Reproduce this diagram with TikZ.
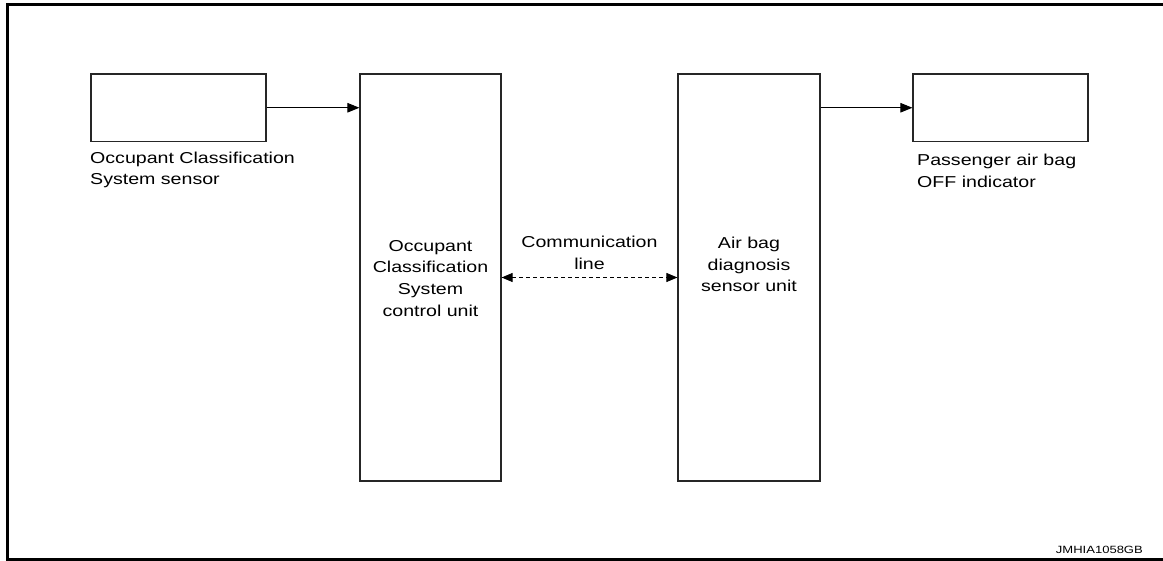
\documentclass[tikz,border=0pt]{standalone}
\usepackage{fontspec}
\setmainfont{Liberation Sans}[FakeStretch=1.24]
\usetikzlibrary{arrows.meta}
\tikzset{
  blk/.style={draw=black!85, line width=1.2pt, inner sep=0pt},
  lbl/.style={inner sep=0pt, font=\fontsize{15.8}{21.7}\selectfont},
  conn/.style={line width=1pt, -{Triangle[length=12pt,width=9.5pt]}},
  dconn/.style={line width=1pt, dash pattern=on 4pt off 3pt,
    {Triangle[length=11pt,width=9pt]}-{Triangle[length=11pt,width=9pt]}},
  frame/.style={line width=2.8pt}
}
\begin{document}
\begin{tikzpicture}[x=1pt,y=-1pt]
\useasboundingbox (0,0) rectangle (1163,561);
\draw[frame] (1163,4.7) -- (7.3,4.7) -- (7.3,559.5) -- (1163,559.5);
\node[blk, minimum width=175pt, minimum height=67.5pt] (sensor) at (178.5,107.75) {};
\node[blk, minimum width=141pt, minimum height=407pt] (ocs) at (430.5,277.5) {};
\node[blk, minimum width=142pt, minimum height=407pt] (abs) at (749,277.5) {};
\node[blk, minimum width=175pt, minimum height=67.5pt] (ind) at (1000.5,107.75) {};
\node[lbl, align=center] (ocslbl) at (430.5,278.2)
  {Occupant\\Classification\\System\\control unit};
\node[lbl, align=center] (abslbl) at (749,264.5)
  {Air bag\\diagnosis\\sensor unit};
\node[lbl, anchor=north west, align=left, font=\fontsize{15.8}{20.5}\selectfont] (sensorlbl) at (90,152)
  {Occupant Classification\\System sensor};
\node[lbl, anchor=north west, align=left] (indlbl) at (917,154)
  {Passenger air bag\\OFF indicator};
\node[lbl, align=center] (comm) at (589.5,253) {Communication\\line};
\node[inner sep=0pt, anchor=base east, font=\fontsize{10.5}{12}\selectfont] (code) at (1143,553.3) {JMHIA1058GB};
\draw[conn] (sensor.east) -- (ocs.west |- sensor.east);
\draw[conn] (abs.east |- ind.west) -- (ind.west);
\draw[dconn] (ocs.east) -- (abs.west);
\end{tikzpicture}
\end{document}
